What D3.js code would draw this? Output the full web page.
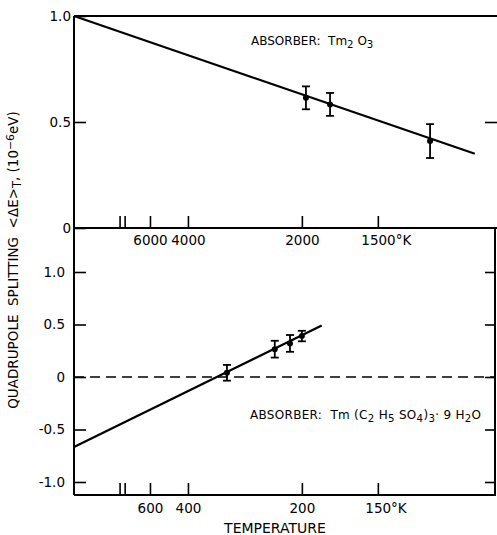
<!DOCTYPE html>
<html>
<head>
<meta charset="utf-8">
<script src="https://cdn.jsdelivr.net/npm/d3@7"></script>
<style>
  body { margin:0; background:#fff; }
  svg text { font-family: "DejaVu Sans", sans-serif; fill:#000; }
</style>
</head>
<body>
<div id="chart"></div>
<script>
// Tm2O3 panel (upper)
const topTemps = [1965, 1780, 1280];
const topSplit = [0.614, 0.583, 0.41];
const topErr   = [0.054, 0.054, 0.08];
const topFitTemps = [Infinity, 1137];
const topFitSplit = [1.0, 0.35];
const topTickTemps  = [10000, 9000, 6000, 4000, 2000, 1500];
const topTickLabels = ["", "", "6000", "4000", "2000", "1500°K"];
const topYTicks = [0, 0.5, 1.0];
const topYLabels = ["0", "0.5", "1.0"];

// Tm(C2H5SO4)3.9H2O panel (lower)
const botTemps = [298, 227, 211, 200];
const botSplit = [0.04, 0.265, 0.32, 0.39];
const botErr   = [0.075, 0.08, 0.08, 0.05];
const botFitTemps = [Infinity, 184];
const botFitSplit = [-0.667, 0.49];
const botTickTemps  = [1000, 900, 600, 400, 200, 150];
const botTickLabels = ["", "", "600", "400", "200", "150°K"];
const botYTicks = [-1.0, -0.5, 0, 0.5, 1.0];
const botYLabels = ["-1.0", "-0.5", "0", "0.5", "1.0"];

const W = 497, H = 535
const left = 74, right = 496, topY = 16, midY = 228, botY = 495

const svg = d3.select("#chart").append("svg")
  .attr("width", W).attr("height", H)

// x is linear in 1/T
const xTop = d3.scaleLinear().domain([0, 1/1080]).range([left, right])
const xBot = d3.scaleLinear().domain([0, 1/108]).range([left, right])
const yTop = d3.scaleLinear().domain([0, 1]).range([midY, topY])
const yBot = d3.scaleLinear().domain([-1, 1]).range([482, 272])

const ink = "#000"

// frame
const frame = [
  [left, topY, left, botY],
  [left, topY, W, topY],
  [left, midY, W, midY],
  [left, botY, right, botY],
  [495, midY, 495, botY]
]
svg.selectAll(null).data(frame).enter().append("line")
  .attr("x1", d=>d[0]).attr("y1", d=>d[1]).attr("x2", d=>d[2]).attr("y2", d=>d[3])
  .style("stroke", ink).style("stroke-width", 2)

function styleAxis(g){
  g.select(".domain").remove()
  g.selectAll(".tick line").style("stroke", ink).style("stroke-width", 1.6)
  g.selectAll(".tick text").style("font-family", "DejaVu Sans, sans-serif")
    .style("font-size", "13.5px").style("font-weight", "500").attr("fill", ink)
}

// x axes
svg.append("g")
  .attr("transform", "translate(0," + midY + ")")
  .call(d3.axisBottom(xTop)
    .tickValues(topTickTemps.map(t => 1/t))
    .tickSize(-12).tickSizeOuter(0).tickPadding(7)
    .tickFormat((d,i) => topTickLabels[i]))
  .call(styleAxis)
  .call(g => g.selectAll(".tick text").filter(d => Math.abs(d - 1/1500) < 1e-9)
    .attr("text-anchor", "start").attr("x", -17))

svg.append("g")
  .attr("transform", "translate(0," + botY + ")")
  .call(d3.axisBottom(xBot)
    .tickValues(botTickTemps.map(t => 1/t))
    .tickSize(-12).tickSizeOuter(0).tickPadding(8)
    .tickFormat((d,i) => botTickLabels[i]))
  .call(styleAxis)
  .call(g => g.selectAll(".tick text").filter(d => Math.abs(d - 1/150) < 1e-9)
    .attr("text-anchor", "start").attr("x", -13))

// y axes
svg.append("g")
  .attr("transform", "translate(" + left + ",0)")
  .call(d3.axisLeft(yTop).tickValues(topYTicks)
    .tickSize(-12).tickSizeOuter(0).tickPadding(3)
    .tickFormat((d,i) => topYLabels[i]))
  .call(styleAxis)

svg.append("g")
  .attr("transform", "translate(" + left + ",0)")
  .call(d3.axisLeft(yBot).tickValues(botYTicks)
    .tickSize(-12).tickSizeOuter(0).tickPadding(9)
    .tickFormat((d,i) => botYLabels[i]))
  .call(styleAxis)

svg.append("g")
  .attr("transform", "translate(497,0)")
  .call(d3.axisRight(yTop).tickValues([0.5]).tickSize(-12).tickFormat(""))
  .call(styleAxis)

svg.append("g")
  .attr("transform", "translate(495,0)")
  .call(d3.axisRight(yBot).tickValues(botYTicks).tickSize(-10).tickFormat(""))
  .call(styleAxis)

// dashed zero line, lower panel
svg.append("line")
  .attr("x1", left).attr("x2", 495)
  .attr("y1", yBot(0)).attr("y2", yBot(0))
  .style("stroke", ink).style("stroke-width", 1.5)
  .style("stroke-dasharray", "10,6")

// fitted lines
const lineTop = d3.line().x(d => xTop(1/d[0])).y(d => yTop(d[1]))
svg.append("path")
  .attr("d", lineTop(d3.zip(topFitTemps, topFitSplit)))
  .style("fill", "none").style("stroke", ink).style("stroke-width", 2.2)

const lineBot = d3.line().x(d => xBot(1/d[0])).y(d => yBot(d[1]))
svg.append("path")
  .attr("d", lineBot(d3.zip(botFitTemps, botFitSplit)))
  .style("fill", "none").style("stroke", ink).style("stroke-width", 2.2)

// points with error bars
function errorPoints(temps, vals, errs, x, y){
  const pts = temps.map((t,i) => ({t:t, v:vals[i], e:errs[i]}))
  const g = svg.append("g").style("stroke", ink).style("stroke-width", 1.8)
  g.selectAll(null).data(pts).enter().append("line")
    .attr("x1", d=>x(1/d.t)).attr("x2", d=>x(1/d.t))
    .attr("y1", d=>y(d.v - d.e)).attr("y2", d=>y(d.v + d.e))
  g.selectAll(null).data(pts).enter().append("line")
    .attr("x1", d=>x(1/d.t) - 4).attr("x2", d=>x(1/d.t) + 4)
    .attr("y1", d=>y(d.v - d.e)).attr("y2", d=>y(d.v - d.e))
  g.selectAll(null).data(pts).enter().append("line")
    .attr("x1", d=>x(1/d.t) - 4).attr("x2", d=>x(1/d.t) + 4)
    .attr("y1", d=>y(d.v + d.e)).attr("y2", d=>y(d.v + d.e))
  g.selectAll(null).data(pts).enter().append("circle")
    .attr("cx", d=>x(1/d.t)).attr("cy", d=>y(d.v)).attr("r", 3)
    .style("fill", ink).style("stroke", "none")
}
errorPoints(topTemps, topSplit, topErr, xTop, yTop)
errorPoints(botTemps, botSplit, botErr, xBot, yBot)

// text helper: parts of [text, "sub"|"sup"|null]
function richText(x, y, size, parts, anchor){
  const t = svg.append("text").attr("x", x).attr("y", y)
    .attr("xml:space", "preserve")
    .style("font-size", size + "px").attr("text-anchor", anchor || "start")
  parts.forEach(p => {
    const s = t.append("tspan").text(p[0])
    if (p[1] == "sub") s.attr("baseline-shift", "-30%").style("font-size", (size*0.85) + "px")
    if (p[1] == "sup") s.attr("baseline-shift", "40%").style("font-size", (size*0.8) + "px")
  })
  return t
}

richText(251, 45, 12, [["ABSORBER:  Tm"], ["2","sub"], [" O"], ["3","sub"]])
richText(250, 419, 12, [["ABSORBER:  Tm (C"], ["2","sub"], [" H"], ["5","sub"], [" SO"], ["4","sub"],
  [")"], ["3","sub"], ["· 9 H"], ["2","sub"], ["O"]])
  .style("letter-spacing", "0.3px")

// axis titles
svg.append("text")
  .attr("x", 275).attr("y", 533)
  .attr("text-anchor", "middle")
  .style("font-size", "14px")
  .text("TEMPERATURE")

richText(0, 0, 13.5, [["QUADRUPOLE  SPLITTING  <ΔE>"], ["T","sub"], [", (10"], ["−6","sup"], ["eV)"]], "middle")
  .attr("transform", "translate(18,260) rotate(-90)")
</script>
</body>
</html>
